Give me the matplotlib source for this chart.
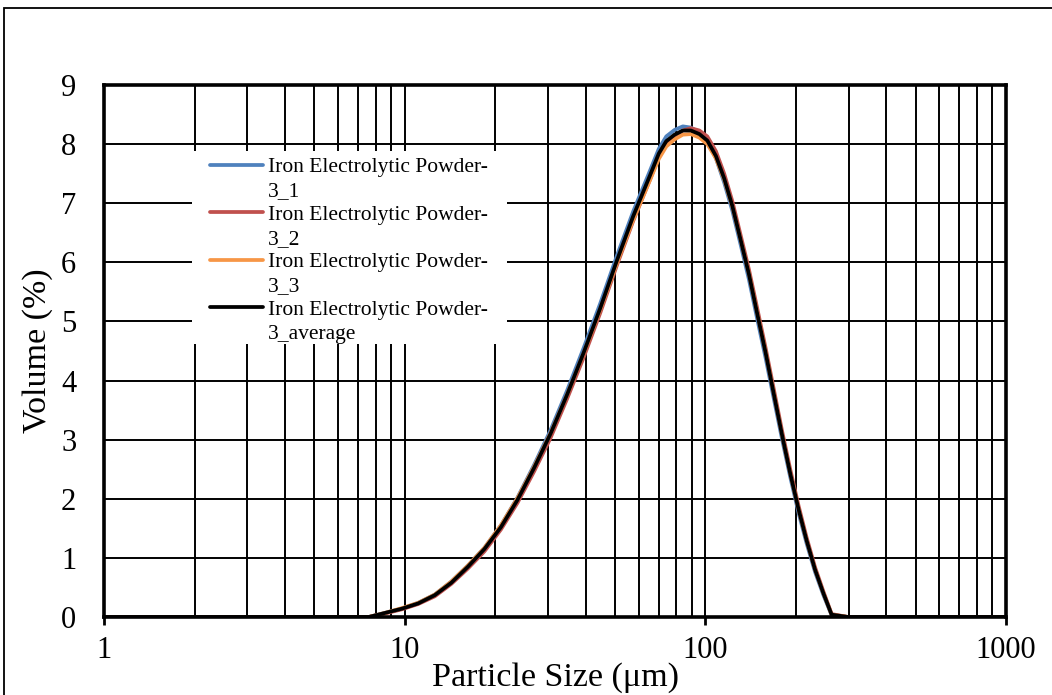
import matplotlib
matplotlib.use("Agg")
import matplotlib.pyplot as plt
from matplotlib.lines import Line2D
from matplotlib.patches import Rectangle
from matplotlib.ticker import LogLocator, FixedLocator, NullFormatter

plt.rcParams['font.family'] = ['Liberation Serif', 'DejaVu Serif']

# particle size classes (um) and volume (%) per run
size_um = [1.0, 7.59, 8.61, 9.77, 11.09, 12.59, 14.29, 16.22, 18.41, 20.89, 23.71,
           26.92, 30.55, 34.67, 39.36, 44.67, 50.70, 57.54, 65.31, 70.0, 74.13,
           79.0, 84.14, 89.5, 95.50, 101.5, 108.4, 115.5, 123.0, 131.0, 139.6,
           148.5, 158.5, 168.5, 179.9, 191.5, 204.2, 217.0, 231.7, 247.0, 263.0,
           298.5, 1000.0]

vol_1 = [0, 0, 0.07, 0.14, 0.24, 0.38, 0.60, 0.87, 1.17, 1.55, 2.02,
         2.57, 3.16, 3.83, 4.55, 5.30, 6.10, 6.86, 7.54, 7.92, 8.13,
         8.24, 8.30, 8.28, 8.19, 8.05, 7.76, 7.35, 6.87, 6.30, 5.71,
         5.06, 4.39, 3.72, 3.01, 2.37, 1.76, 1.25, 0.76, 0.37, 0.03,
         0, 0]
vol_2 = [0, 0, 0.06, 0.13, 0.22, 0.35, 0.56, 0.82, 1.11, 1.48, 1.93,
         2.46, 3.03, 3.69, 4.39, 5.14, 5.94, 6.70, 7.39, 7.78, 8.00,
         8.14, 8.23, 8.27, 8.23, 8.13, 7.88, 7.50, 7.03, 6.46, 5.88,
         5.24, 4.56, 3.88, 3.15, 2.50, 1.88, 1.35, 0.84, 0.43, 0.05,
         0, 0]
vol_3 = [0, 0, 0.07, 0.15, 0.24, 0.38, 0.60, 0.87, 1.17, 1.55, 2.01,
         2.54, 3.11, 3.76, 4.46, 5.20, 5.98, 6.72, 7.38, 7.75, 7.96,
         8.08, 8.16, 8.17, 8.11, 8.00, 7.76, 7.40, 6.94, 6.38, 5.81,
         5.16, 4.49, 3.81, 3.08, 2.43, 1.82, 1.30, 0.80, 0.40, 0.04,
         0, 0]
vol_avg = [0, 0, 0.07, 0.14, 0.23, 0.37, 0.58, 0.85, 1.15, 1.52, 1.98,
           2.52, 3.10, 3.76, 4.47, 5.22, 6.02, 6.78, 7.46, 7.84, 8.05,
           8.16, 8.23, 8.23, 8.17, 8.06, 7.80, 7.42, 6.95, 6.38, 5.80,
           5.15, 4.48, 3.80, 3.08, 2.43, 1.82, 1.30, 0.80, 0.40, 0.04,
           0, 0]

names = ['Iron Electrolytic Powder-3_1', 'Iron Electrolytic Powder-3_2',
         'Iron Electrolytic Powder-3_3', 'Iron Electrolytic Powder-3_average']
colors = ['#4F81BD', '#C0504D', '#F79646', '#000000']

fig = plt.figure(figsize=(10.52, 6.95), dpi=100)
ax = fig.add_axes([0.0989, 0.1122, 0.8574, 0.7655])

lines = []
for vals, name, c in zip([vol_1, vol_2, vol_3, vol_avg], names, colors):
    ln, = ax.plot(size_um, vals, color=c, lw=2.7, label=name,
                  solid_joinstyle='round', solid_capstyle='round')
    lines.append(ln)

ax.set_xscale('log')
ax.set_xlim(1, 1000)
ax.set_ylim(0, 9)
ax.xaxis.set_major_locator(FixedLocator([1, 10, 100, 1000]))
ax.set_xticklabels(['1', '10', '100', '1000'])
ax.xaxis.set_minor_locator(LogLocator(base=10, subs=range(2, 10)))
ax.xaxis.set_minor_formatter(NullFormatter())
ax.set_yticks(range(0, 10))

ax.grid(True, which='both', axis='x', color='black', lw=1.4)
ax.grid(True, which='major', axis='y', color='black', lw=1.4)
ax.tick_params(axis='x', which='major', direction='out', length=6, width=2,
               labelsize=22, pad=8)
ax.tick_params(axis='x', which='minor', length=0)
ax.tick_params(axis='y', length=0, labelsize=22, pad=20)
for s in ax.spines.values():
    s.set_linewidth(2.6)

ax.set_xlabel('Particle Size (μm)', fontsize=24.5, labelpad=-2)
ax.set_ylabel('Volume (%)', fontsize=24.5, labelpad=6)

# white box behind the legend, hiding the grid
ax.add_patch(Rectangle((0.0976, 0.513), 0.349, 0.363, transform=ax.transAxes,
                       facecolor='white', edgecolor='none', zorder=4))

# legend: wrap each name after the hyphen, handle on the first row
blank = Line2D([], [], color='none')
handles, labels = [], []
for ln, name in zip(lines, names):
    head, tail = name.rsplit('-', 1)
    handles += [ln, blank]
    labels += [head + '-', tail]
leg = ax.legend(handles, labels, loc='upper left', bbox_to_anchor=(0.1175, 0.864),
                fontsize=15.5, frameon=False, handlelength=2.47,
                handletextpad=0.23, labelspacing=0.17, borderpad=0,
                borderaxespad=0)
leg.set_zorder(5)

fig.patches.append(Rectangle((4 / 1052, -0.5), 2, 0.5 + 1 - 8 / 695,
                             transform=fig.transFigure, fill=False,
                             edgecolor='black', lw=1.3))

fig.savefig('out.png', dpi=100)
